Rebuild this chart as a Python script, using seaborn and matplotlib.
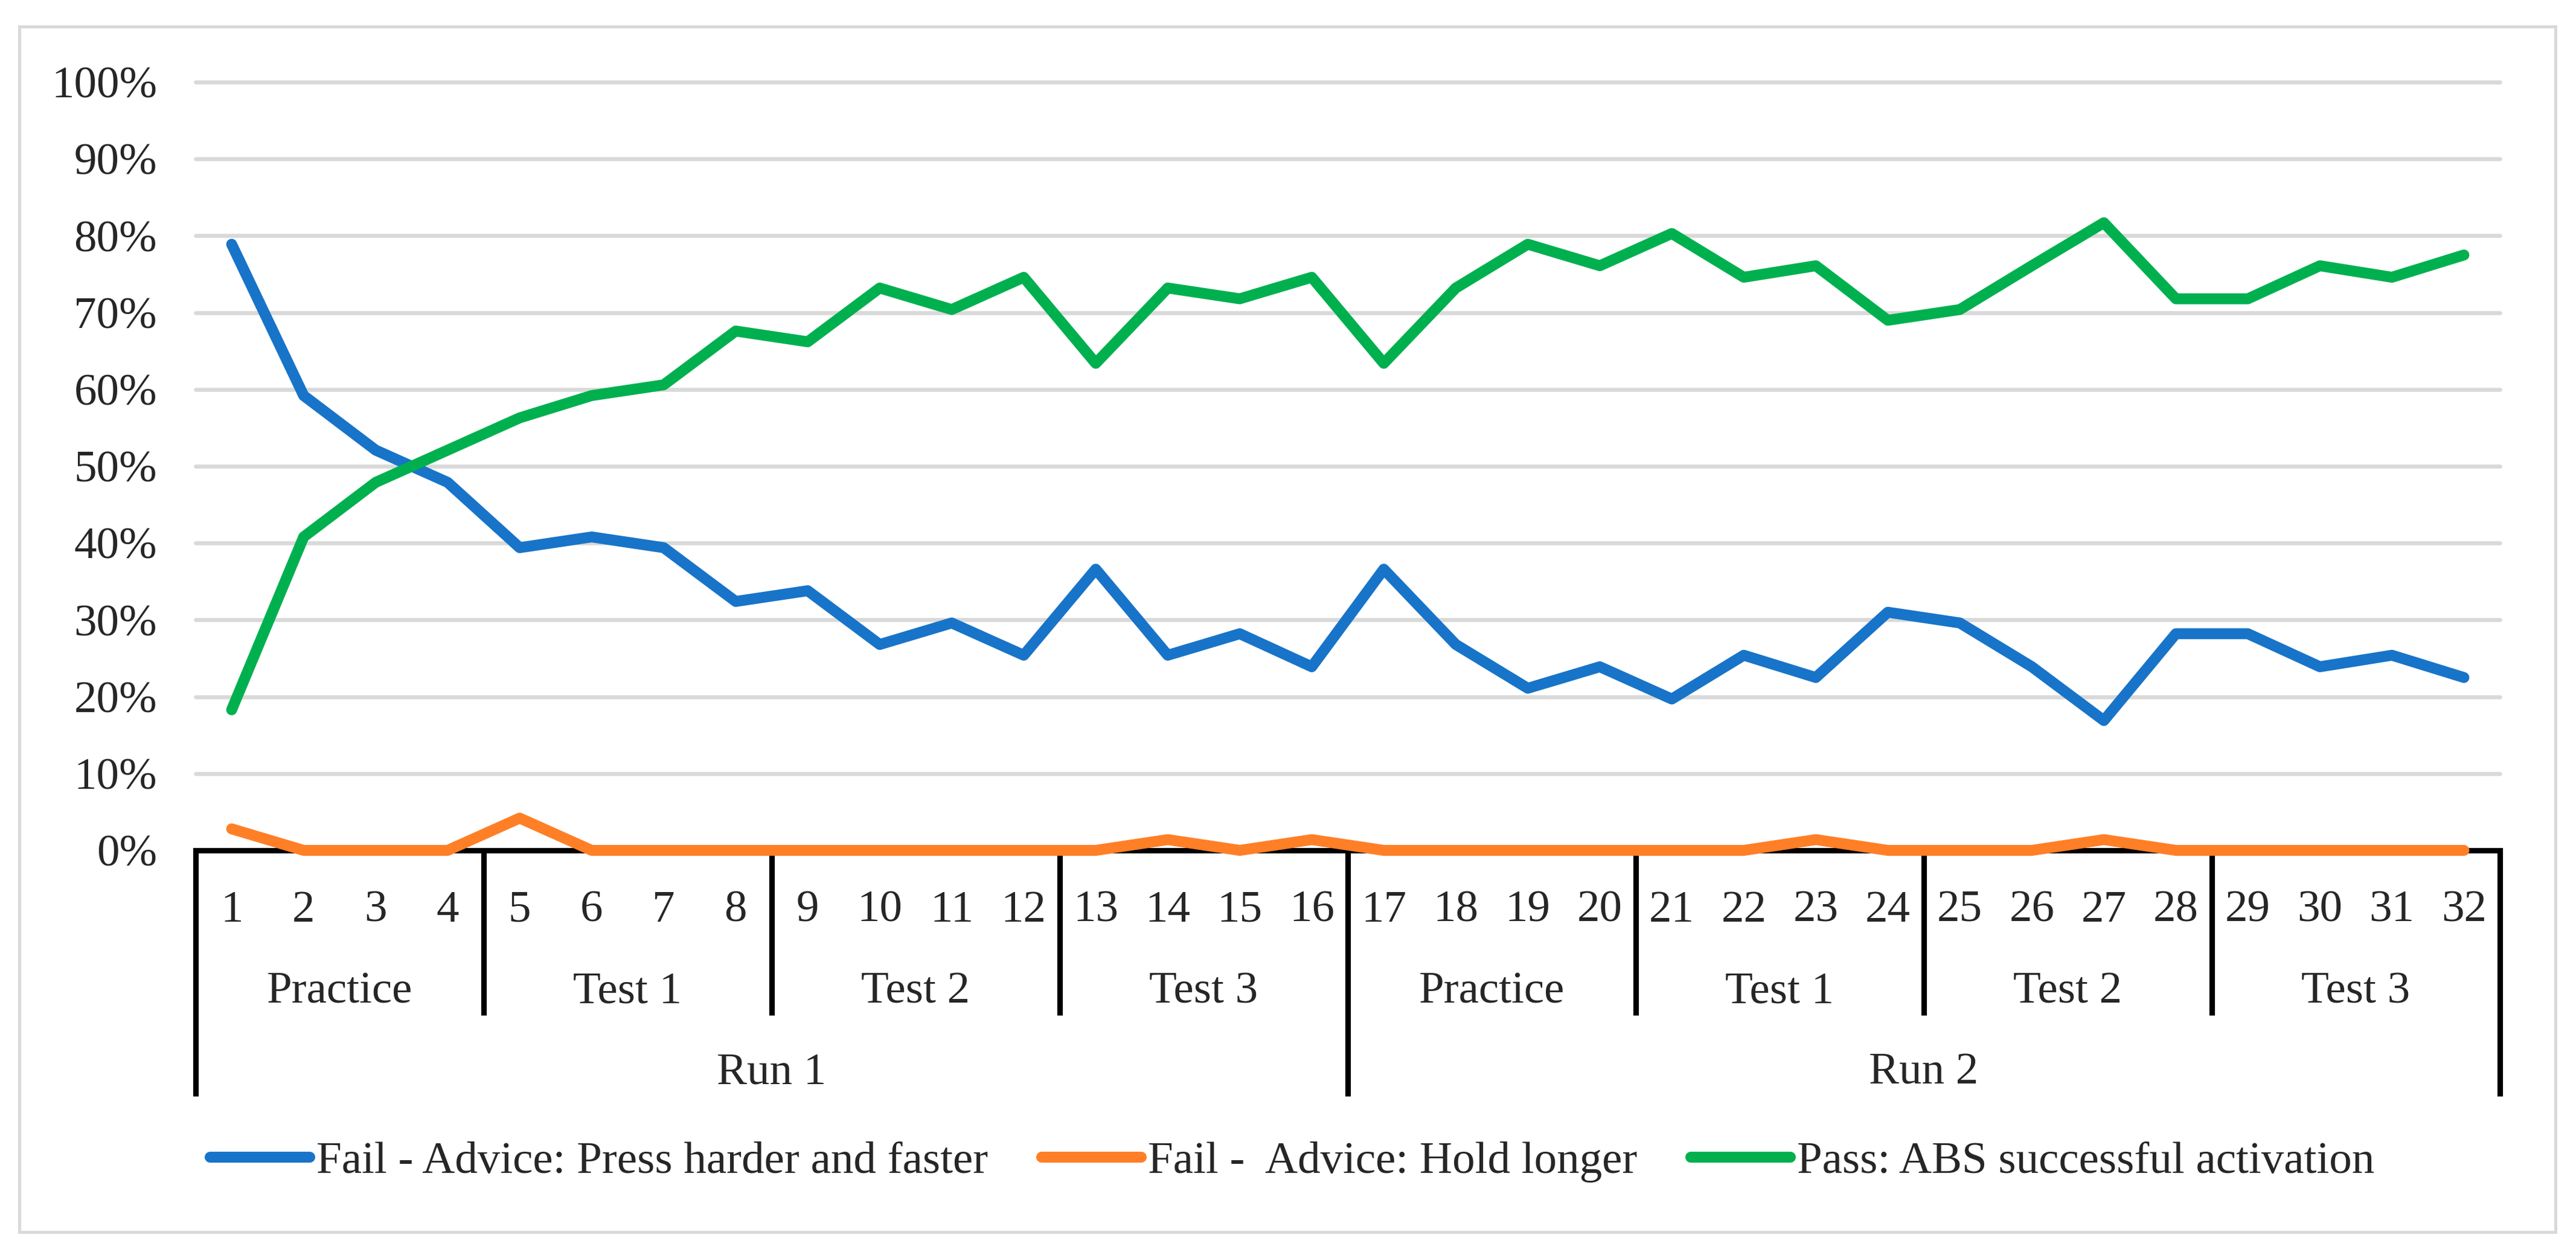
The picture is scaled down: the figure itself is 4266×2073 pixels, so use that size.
import numpy as np
import pandas as pd
import matplotlib
matplotlib.use("Agg")
import matplotlib.pyplot as plt
import matplotlib.transforms as mtransforms
from matplotlib.lines import Line2D
from matplotlib.patches import Rectangle
from matplotlib.ticker import FuncFormatter
import seaborn as sns

# ---------------- data ----------------
trials = list(range(1, 33))
series_names = ["Fail - Advice: Press harder and faster",
                "Fail -  Advice: Hold longer",
                "Pass: ABS successful activation"]
fail_press = [78.9, 59.2, 52.1, 47.9, 39.4, 40.8, 39.4, 32.4, 33.8, 26.8, 29.6, 25.4,
              36.6, 25.4, 28.2, 23.9, 36.6, 26.8, 21.1, 23.9, 19.7, 25.4, 22.5, 31.0,
              29.6, 23.9, 16.9, 28.2, 28.2, 23.9, 25.4, 22.5]
fail_hold = [2.8, 0.0, 0.0, 0.0, 4.2, 0.0, 0.0, 0.0, 0.0, 0.0, 0.0, 0.0,
             0.0, 1.4, 0.0, 1.4, 0.0, 0.0, 0.0, 0.0, 0.0, 0.0, 1.4, 0.0,
             0.0, 0.0, 1.4, 0.0, 0.0, 0.0, 0.0, 0.0]
passed = [18.3, 40.8, 47.9, 52.1, 56.3, 59.2, 60.6, 67.6, 66.2, 73.2, 70.4, 74.6,
          63.4, 73.2, 71.8, 74.6, 63.4, 73.2, 78.9, 76.1, 80.3, 74.6, 76.1, 69.0,
          70.4, 76.1, 81.7, 71.8, 71.8, 76.1, 74.6, 77.5]
group_labels = ["Practice", "Test 1", "Test 2", "Test 3",
                "Practice", "Test 1", "Test 2", "Test 3"]
run_labels = ["Run 1", "Run 2"]
y_ticks = [0, 10, 20, 30, 40, 50, 60, 70, 80, 90, 100]

colors = ["#1874C8", "#FF7F27", "#00B04F"]

df = pd.DataFrame({
    "trial": trials * 3,
    "series": [series_names[0]] * 32 + [series_names[1]] * 32 + [series_names[2]] * 32,
    "value": fail_press + fail_hold + passed,
})

# ---------------- style ----------------
sns.set_style("white")
plt.rcParams["font.family"] = ["Liberation Serif", "DejaVu Serif"]
FS = 54
LW = 13

W, H = 4266, 2073
fig = plt.figure(figsize=(W / 100, H / 100), dpi=100)

ax_left, ax_right, ax_top, ax_bot = 324, 4140, 136, 1408
ax = fig.add_axes([ax_left / W, 1 - ax_bot / H, (ax_right - ax_left) / W, (ax_bot - ax_top) / H])

sns.lineplot(data=df, x="trial", y="value", hue="series", hue_order=series_names,
             palette=colors, linewidth=LW, errorbar=None, legend=False, ax=ax,
             solid_capstyle="round", solid_joinstyle="round")
for ln in ax.lines:
    ln.set_clip_on(False)
    ln.set_zorder(4)

ax.set_xlim(0.5, 32.5)
ax.set_ylim(0, 100)
ax.set_yticks(y_ticks)
ax.yaxis.set_major_formatter(FuncFormatter(lambda v, p: f"{v:.0f}%"))
ax.tick_params(axis="y", length=0, pad=46, labelsize=FS)
ax.set_xticks([])
ax.set_xlabel("")
ax.set_ylabel("")
ax.grid(axis="y", color="#D9D9D9", linewidth=4.8)
ax.grid(axis="x", visible=False)
for gl in ax.get_ygridlines():
    gl.set_clip_on(False)
ax.set_axisbelow(True)

for s in ["top", "right", "left"]:
    ax.spines[s].set_visible(False)
ax.spines["bottom"].set_color("black")
ax.spines["bottom"].set_linewidth(6.5)
ax.spines["bottom"].set_zorder(3)

# ---------------- multi-level category axis ----------------
hpx = ax_bot - ax_top
def ay(py):
    return (ax_bot - py) / hpx

trans = mtransforms.blended_transform_factory(ax.transData, ax.transAxes)

for t in trials:
    ax.text(t, ay(1500), str(t), transform=trans, ha="center", va="center_baseline",
            fontsize=FS, clip_on=False)

for i, g in enumerate(group_labels):
    xc = 4 * i + 2.5
    ax.text(xc, ay(1635), g, transform=trans, ha="center", va="center_baseline",
            fontsize=FS, clip_on=False)

for i, r in enumerate(run_labels):
    xc = 16 * i + 8.5
    ax.text(xc, ay(1769), r, transform=trans, ha="center", va="center_baseline",
            fontsize=FS, clip_on=False)

for k in range(9):
    xb = 0.5 + 4 * k
    bottom = ay(1815) if k in (0, 4, 8) else ay(1681)
    ax.plot([xb, xb], [0, bottom], transform=trans, color="black", linewidth=6.5,
            clip_on=False, solid_capstyle="butt", zorder=3)

# ---------------- legend ----------------
handles = [Line2D([0], [0], color=c, linewidth=LW, solid_capstyle="round") for c in colors]
fig.legend(handles, series_names, loc="center", bbox_to_anchor=(2140 / W, 1 - 1924 / H),
           ncol=3, frameon=False, fontsize=FS, handlelength=2.2, handletextpad=0.15,
           columnspacing=1.18)

# ---------------- outer border ----------------
fig.add_artist(Rectangle((32 / W, 1 - 2040 / H), (4232 - 32) / W, (2040 - 44) / H,
                         transform=fig.transFigure, fill=False, edgecolor="#D9D9D9",
                         linewidth=3.6))

fig.savefig("out.png", dpi=100, facecolor="white")
